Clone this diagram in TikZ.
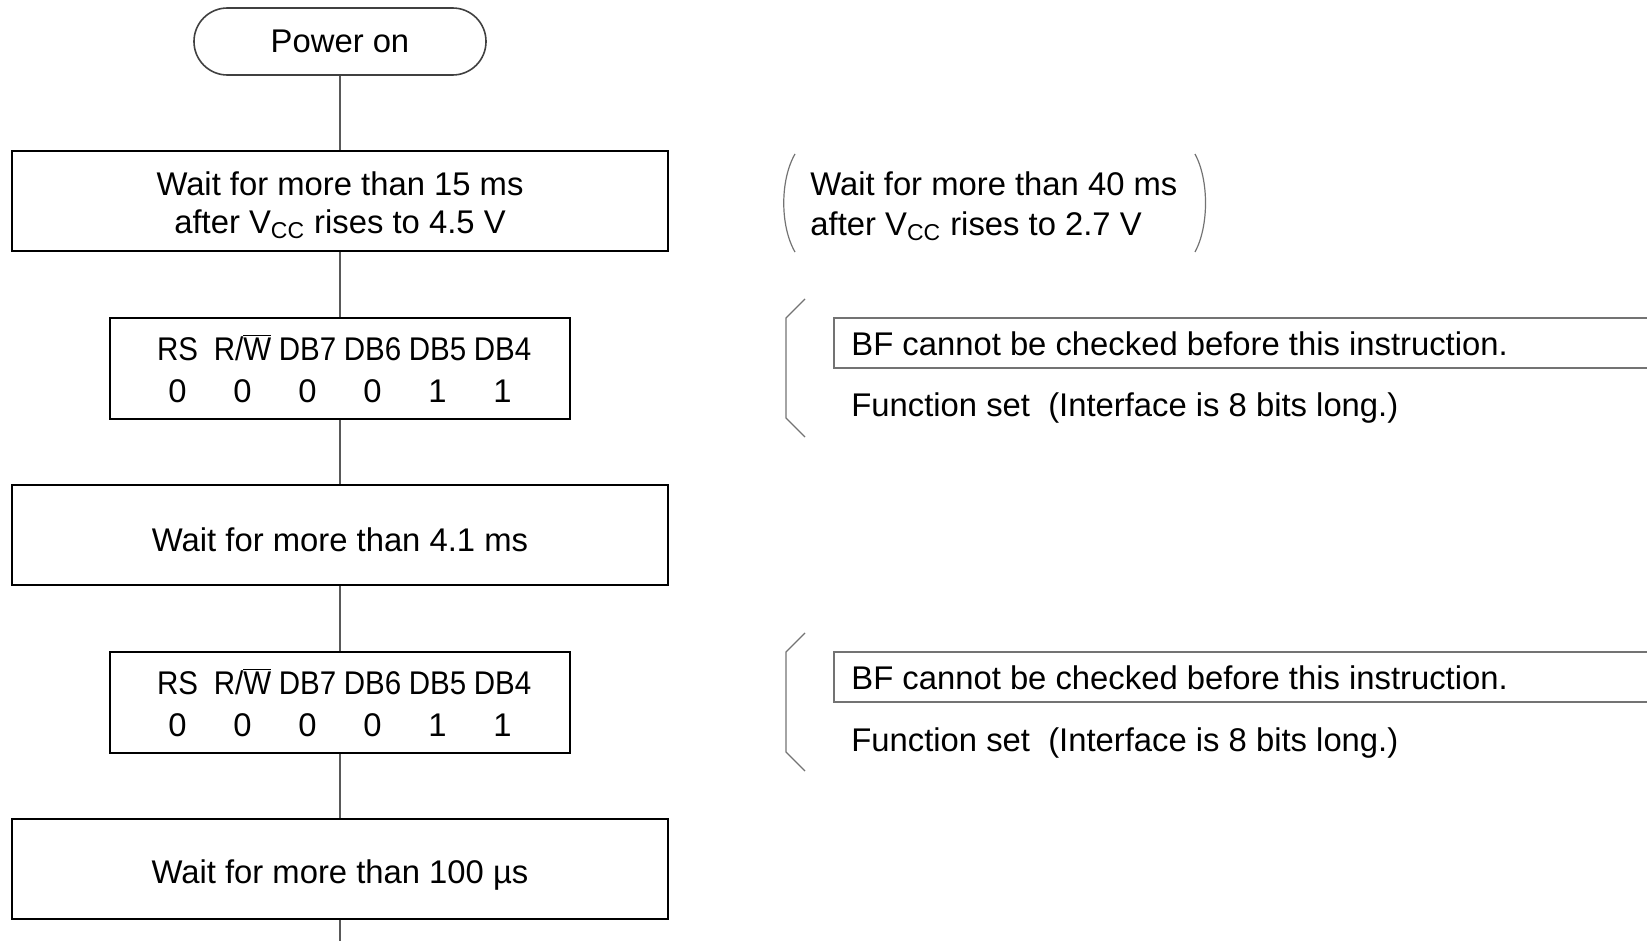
\documentclass[tikz,border=0pt]{standalone}
\usepackage{fontspec}
\usepackage{graphicx}
\setmainfont{Liberation Sans}
\usetikzlibrary{calc}
\newcommand{\bitcol}[1]{\makebox[32.5pt]{#1}}
\newcommand{\bithead}[1]{\makebox[32.5pt]{\scalebox{0.9}[1]{#1}}}

\begin{document}
\begin{tikzpicture}[x=0.5pt, y=-0.5pt,
    font=\fontsize{16.4}{19}\selectfont,
    box/.style={draw, line width=1pt, minimum width=328pt, minimum height=50pt, align=center},
    low/.style={text height=#1, text depth=0pt},
    bitbox/.style={draw, line width=1pt, minimum width=230pt, minimum height=50.5pt, align=center},
    link/.style={draw=black!65, line width=0.6pt},
    frame/.style={draw=black!55, line width=0.6pt},
    note/.style={anchor=west, inner sep=0pt, align=left}]
    \useasboundingbox (0, 0) rectangle (1647, 941);
    \node [draw=black!75, line width=0.8pt, rounded corners=16.7pt, minimum width=146pt, minimum height=33.5pt] (P) at (340, 41.5) {Power on};
        \node [box] (W1) at ($(P) + (0, 159.5)$) {\rule{0pt}{16pt}Wait for more than 15 ms\\after V\textsubscript{CC} rises to 4.5 V};
        \node [bitbox] (F1) at ($(W1) + (0, 167.5)$) {\bithead{RS}\bithead{R/$\overline{\mbox{W}}$}\bithead{DB7}\bithead{DB6}\bithead{DB5}\bithead{DB4}\\[2pt]
            \bitcol{0}\bitcol{0}\bitcol{0}\bitcol{0}\bitcol{1}\bitcol{1}};
        \node [box, low=16.8pt] (W2) at ($(F1) + (0, 166.5)$) {Wait for more than 4.1 ms};
        \node [bitbox] (F2) at ($(W2) + (0, 167.5)$) {\bithead{RS}\bithead{R/$\overline{\mbox{W}}$}\bithead{DB7}\bithead{DB6}\bithead{DB5}\bithead{DB4}\\[2pt]
            \bitcol{0}\bitcol{0}\bitcol{0}\bitcol{0}\bitcol{1}\bitcol{1}};
        \node [box, low=14.5pt] (W3) at ($(F2) + (0, 166.5)$) {Wait for more than 100 µs};
        \coordinate (E) at (340, 941);
    \draw [link] (P) -- (W1);
    \draw [link] (W1) -- (F1);
    \draw [link] (F1) -- (W2);
    \draw [link] (W2) -- (F2);
    \draw [link] (F2) -- (W3);
    \draw [link] (W3) -- (E);

    \node [note] (N1) at (810, 206) {Wait for more than 40 ms\\[1pt]after V\textsubscript{CC} rises to 2.7 V};
    \draw [frame] (795, 154) .. controls (780, 180) and (780, 226) .. (795, 252);
    \draw [frame] (1195, 154) .. controls (1209, 180) and (1209, 226) .. (1195, 252);

    \node [note] (B1) at (851, 344) {BF cannot be checked before this instruction.};
    \node [note] (S1) at (851, 408) {Function set\ \ (Interface is 8 bits long.)};
    \draw [frame] (1647, 318) -- (834, 318) -- (834, 368) -- (1647, 368);
    \draw [frame] (805, 299) -- (786, 318) -- (786, 418) -- (805, 437);

    \node [note] (B2) at (851, 678) {BF cannot be checked before this instruction.};
    \node [note] (S2) at (851, 743) {Function set\ \ (Interface is 8 bits long.)};
    \draw [frame] (1647, 652) -- (834, 652) -- (834, 702) -- (1647, 702);
    \draw [frame] (805, 633) -- (786, 652) -- (786, 752) -- (805, 771);
\end{tikzpicture}
\end{document}
